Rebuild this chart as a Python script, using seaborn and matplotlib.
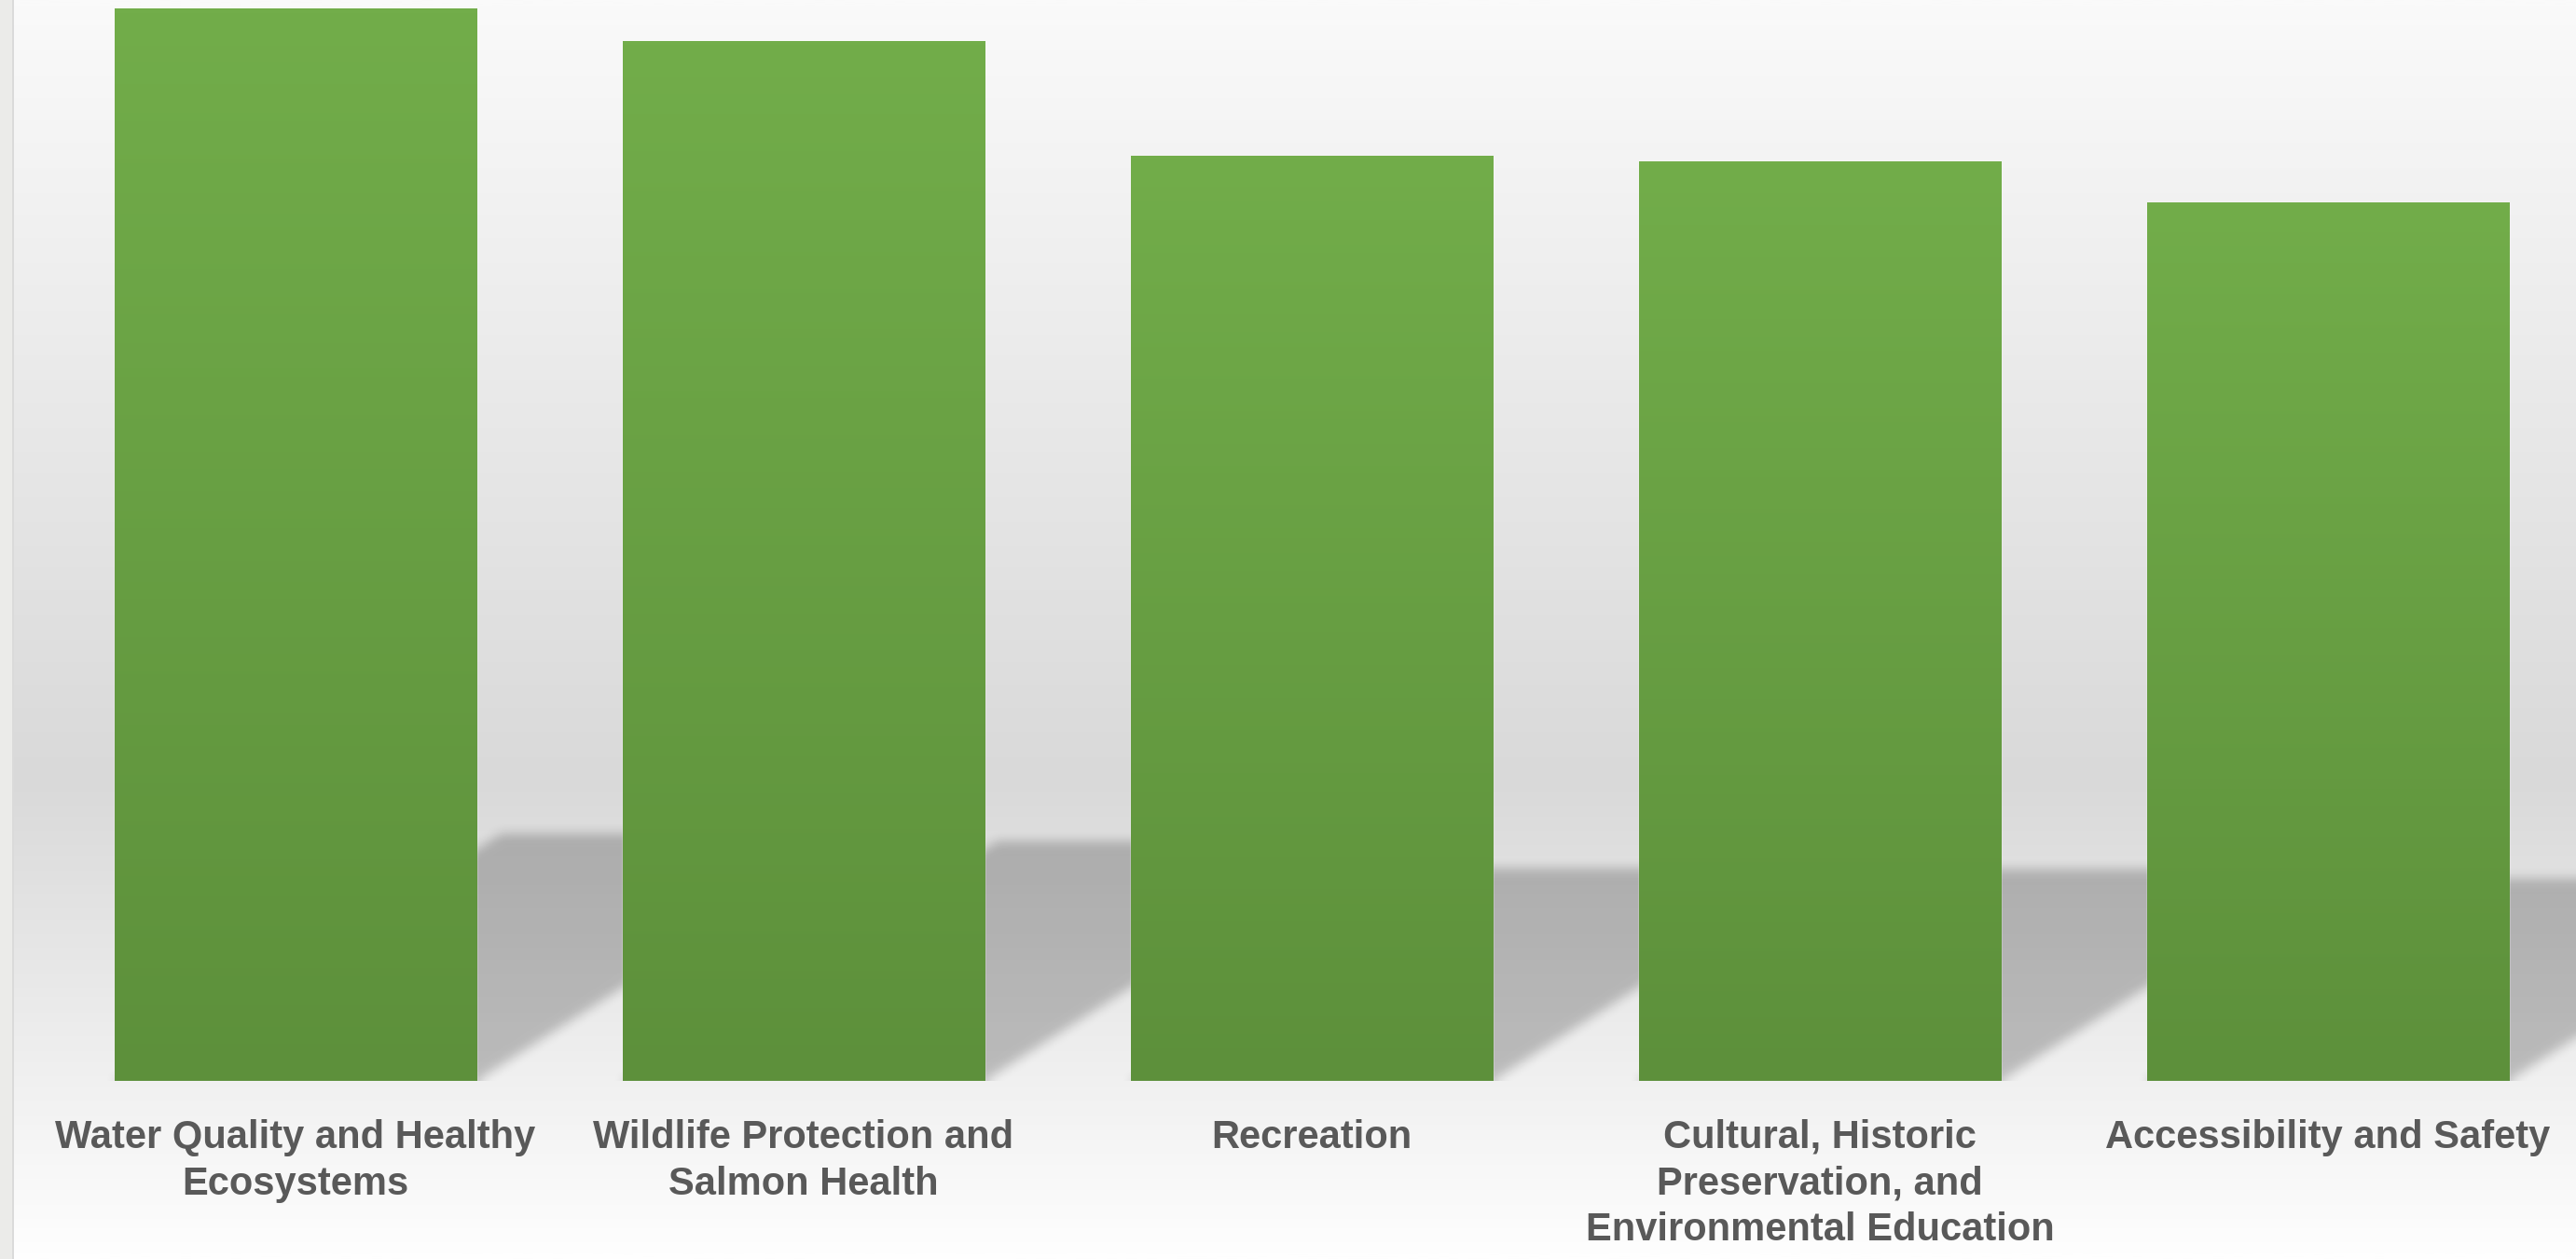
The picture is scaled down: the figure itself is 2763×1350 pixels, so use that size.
import numpy as np
import pandas as pd
import seaborn as sns
import matplotlib.pyplot as plt
from matplotlib.colors import LinearSegmentedColormap
from matplotlib.patches import Rectangle

# values (no axis shown, so on a 0-100 scale)
categories = [
    "Water Quality and Healthy\nEcosystems",
    "Wildlife Protection and\nSalmon Health",
    "Recreation",
    "Cultural, Historic\nPreservation, and\nEnvironmental Education",
    "Accessibility and Safety",
]
scores = [99.2, 96.2, 85.6, 85.1, 81.3]

W, H = 2763, 1350
BAR_W = 0.712
SHADOW_K = 0.23      # shadow height as share of bar height
SHADOW_SLOPE = 30.1  # data-y per data-x of the shadow lean


def box_blur(a, r, axis):
    # running mean along one axis, edges padded
    pad = [(0, 0), (0, 0)]
    pad[axis] = (r + 1, r)
    p = np.pad(a, pad, mode="edge")
    c = np.cumsum(p, axis=axis)
    n = a.shape[axis]
    hi = np.take(c, np.arange(2 * r + 1, 2 * r + 1 + n), axis=axis)
    lo = np.take(c, np.arange(0, n), axis=axis)
    return (hi - lo) / (2 * r + 1)


sns.set_style("white")
plt.rcParams["font.family"] = ["Liberation Sans", "DejaVu Sans"]

fig = plt.figure(figsize=(W / 100, H / 100), dpi=100)

# soft grey background gradient over the whole figure
bg = fig.add_axes([0, 0, 1, 1], zorder=0)
bg_cmap = LinearSegmentedColormap.from_list(
    "bg", [(0, "#fafafa"), (0.62, "#d9d9d9"), (1, "#fefefe")])
bg.imshow(np.linspace(0, 1, 600)[:, None], aspect="auto", cmap=bg_cmap,
          extent=[0, 1, 0, 1])
bg.axis("off")

ax = fig.add_axes([44.5 / W, (H - 1159) / H, 2725 / W, 1159 / H], zorder=1)
ax.patch.set_alpha(0)

df = pd.DataFrame({"category": categories, "score": scores})
sns.barplot(data=df, x="category", y="score", color="#669f42",
            width=BAR_W, saturation=1, ax=ax, zorder=3)

# green vertical gradient inside each bar
bar_cmap = LinearSegmentedColormap.from_list("bar", ["#5d903b", "#72ad4a"])
for p in ax.patches:
    x0, w, h = p.get_x(), p.get_width(), p.get_height()
    im = ax.imshow(np.linspace(0, 1, 256)[:, None], cmap=bar_cmap,
                   origin="lower", aspect="auto",
                   extent=[x0, x0 + w, 0, h], zorder=4)
    im.set_clip_path(p)

# leaning floor shadows behind the bars
xs = np.linspace(-0.5, 4.5, 2725)
ys = np.linspace(0, 40, 464)
X, Y = np.meshgrid(xs, ys)
mask = np.zeros_like(X)
for i, v in enumerate(scores):
    xl, xr = i - BAR_W / 2, i + BAR_W / 2
    base_x = X - Y / SHADOW_SLOPE
    inside = (Y <= SHADOW_K * v) & (base_x >= xl) & (base_x <= xr)
    mask = np.maximum(mask, inside.astype(float))
for _ in range(3):
    mask = box_blur(mask, 5, 0)
    mask = box_blur(mask, 5, 1)
rgba = np.zeros(mask.shape + (4,))
rgba[..., 3] = 0.22 * mask
ax.imshow(rgba, origin="lower", aspect="auto",
          extent=[-0.5, 4.5, 0, 40], zorder=1, interpolation="bilinear")

ax.set_xlim(-0.5, 4.5)
ax.set_ylim(0, 100)
ax.set_xlabel("")
ax.set_ylabel("")
ax.set_yticks([])
ax.set_xticks(range(len(categories)))
ax.set_xticklabels(categories, fontsize=30, fontweight="bold",
                   color="#595959", linespacing=1.31)
ax.tick_params(axis="x", length=0, pad=29.5)
sns.despine(ax=ax, left=True, bottom=True)

# thin grey strip at the left edge
fig.add_artist(Rectangle((0, 0), 13 / W, 1, transform=fig.transFigure,
                         facecolor="#ebebe9", edgecolor="none", zorder=5))
fig.add_artist(Rectangle((13 / W, 0), 2 / W, 1, transform=fig.transFigure,
                         facecolor="#dadada", edgecolor="none", zorder=5))

fig.savefig("out.png", dpi=100)
